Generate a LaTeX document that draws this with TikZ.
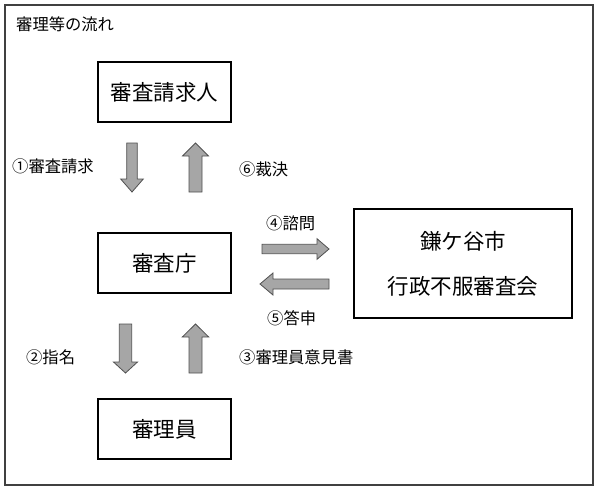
\documentclass[tikz,border=0pt]{standalone}
\usepackage{fontspec}
\newfontfamily\jp{Noto Sans CJK JP}
\definecolor{arrowgray}{HTML}{A6A6A6}
\definecolor{arrowedge}{HTML}{505050}
\definecolor{framec}{HTML}{404040}
\newcommand{\blkdown}[7]{% cx, shaft half, head half, top, headbase, tip, name
  \draw[blk] (#1-#2,#4) -- (#1+#2,#4) -- (#1+#2,#5) -- (#1+#3,#5) -- (#1,#6) -- (#1-#3,#5) -- (#1-#2,#5) -- cycle;
  \coordinate (#7) at (#1,#6);}
\newcommand{\blkup}[7]{% cx, shaft half, head half, bottom, headbase, tip, name
  \draw[blk] (#1-#2,#4) -- (#1+#2,#4) -- (#1+#2,#5) -- (#1+#3,#5) -- (#1,#6) -- (#1-#3,#5) -- (#1-#2,#5) -- cycle;
  \coordinate (#7) at (#1,#6);}
\newcommand{\blkhor}[7]{% cy, shaft half, head half, tail, headbase, tip, name
  \draw[blk] (#4,#1-#2) -- (#5,#1-#2) -- (#5,#1-#3) -- (#6,#1) -- (#5,#1+#3) -- (#5,#1+#2) -- (#4,#1+#2) -- cycle;
  \coordinate (#7) at (#6,#1);}
\begin{document}
\begin{tikzpicture}[x=1pt,y=-1pt,
  box/.style={draw=black, line width=1.5pt, fill=white, inner sep=0pt, font=\jp\fontsize{21.5}{26}\selectfont},
  lbl/.style={anchor=west, inner sep=0pt, font=\jp\fontsize{16.3}{19}\selectfont},
  blk/.style={fill=arrowgray, draw=arrowedge, line width=0.8pt, line join=miter}]
\useasboundingbox (0,0) rectangle (600,488);
\draw[framec, line width=1.2pt] (5,5) rectangle (593,485);
\node[lbl] (title) at (16,24) {審理等の流れ};

\node[box, minimum width=133pt, minimum height=60pt] (req) at (164.5,92) {審査請求人};
\node[box, minimum width=133pt, minimum height=60pt] (agency) at (164.5,263) {審査庁};
\node[box, minimum width=133pt, minimum height=60pt] (examiner) at (164.5,429) {審理員};
\node[box, minimum width=218pt, minimum height=109pt, align=center,
      font=\jp\fontsize{21.5}{45}\selectfont] (council) at (463,263.5) {鎌ケ谷市\\行政不服審査会};

\blkdown{132}{5.3}{11.3}{143}{179}{192}{a1}
\blkup{195.5}{6.5}{13}{192}{156}{143}{a6}
\blkhor{249}{4.7}{10.3}{262}{317}{329}{a4}
\blkhor{284}{5}{11}{329}{273}{260}{a5}
\blkdown{125.5}{6.2}{12}{324}{362}{373}{a2}
\blkup{195.5}{6.5}{13.2}{373}{337}{324}{a3}

\node[lbl] (l1) at (12,166) {①審査請求};
\node[lbl] (l6) at (239,169) {⑥裁決};
\node[lbl] (l4) at (266,223) {④諮問};
\node[lbl] (l5) at (267,318) {⑤答申};
\node[lbl] (l2) at (26,357) {②指名};
\node[lbl] (l3) at (239,357) {③審理員意見書};
\end{tikzpicture}
\end{document}
